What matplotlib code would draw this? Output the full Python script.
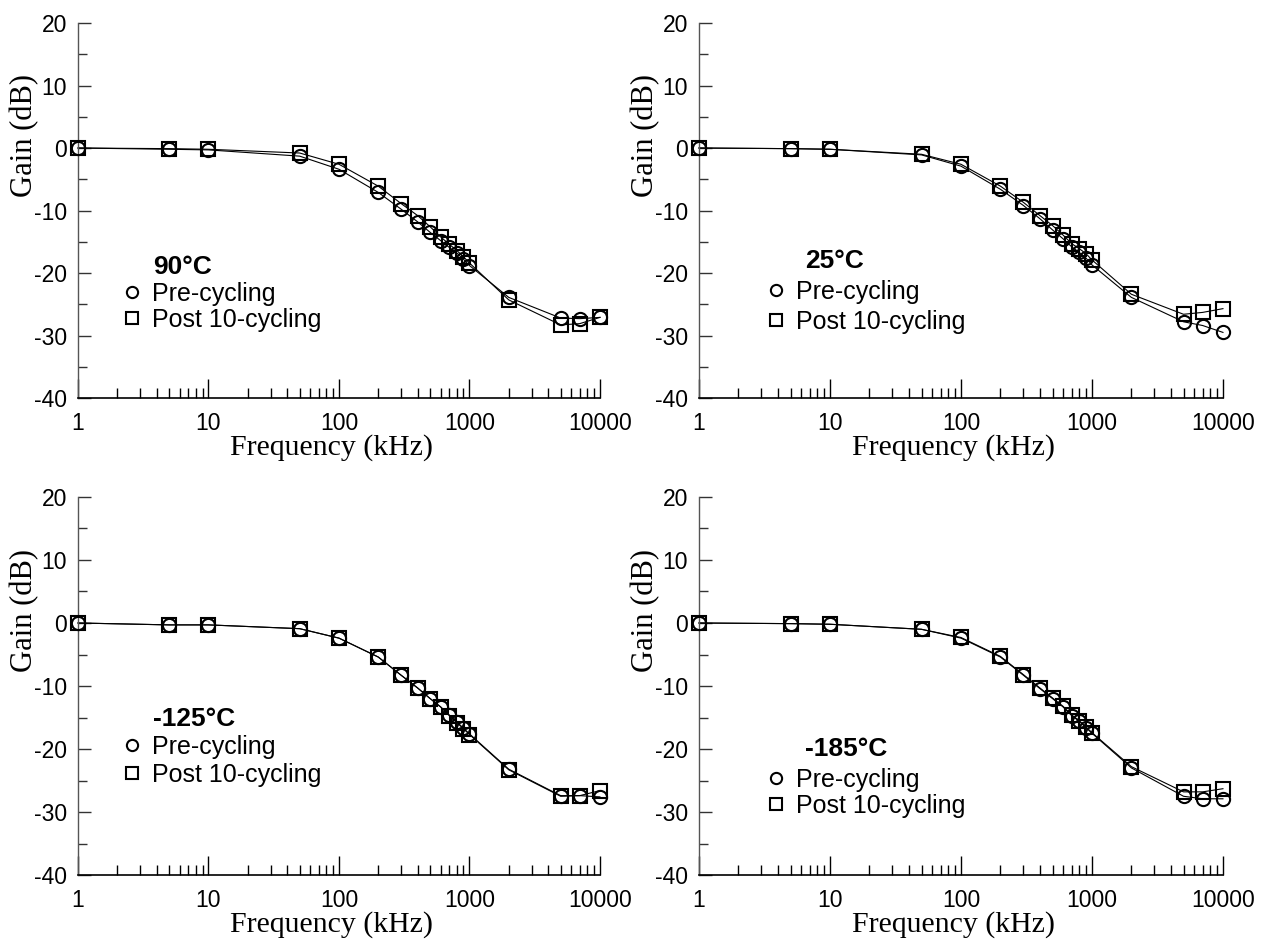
import numpy as np
import matplotlib
matplotlib.use("Agg")
import matplotlib.pyplot as plt
from matplotlib.ticker import LogLocator, NullFormatter, FixedLocator, FixedFormatter

plt.rcParams["axes.unicode_minus"] = False

# DATA
freq = [1, 5, 10, 50, 100, 200, 300, 400, 500, 600, 700, 800, 900, 1000, 2000, 5000, 7000, 10000]

p90_pre = [0, -0.2, -0.3, -1.3, -3.4, -7.1, -9.8, -11.8, -13.5, -14.8, -15.9, -16.8, -17.8, -18.8, -23.9, -27.2, -27.3, -27.1]
p90_post = [0, -0.1, -0.2, -0.8, -2.6, -6.1, -8.9, -10.8, -12.6, -14.2, -15.4, -16.4, -17.4, -18.4, -24.3, -28.3, -28.1, -27.1]

p25_pre = [0, -0.1, -0.2, -1.1, -2.9, -6.6, -9.2, -11.3, -13.1, -14.5, -15.8, -16.7, -17.6, -18.7, -23.9, -27.8, -28.4, -29.5]
p25_post = [0, -0.1, -0.2, -1.0, -2.6, -6.1, -8.7, -10.8, -12.4, -13.9, -15.3, -16.1, -16.9, -17.9, -23.4, -26.6, -26.3, -25.7]

m125_pre = [0, -0.3, -0.3, -0.9, -2.4, -5.4, -8.3, -10.3, -12.0, -13.3, -14.6, -15.7, -16.7, -17.6, -23.2, -27.4, -27.4, -27.6]
m125_post = [0, -0.3, -0.3, -0.9, -2.4, -5.4, -8.3, -10.3, -12.0, -13.3, -14.7, -15.8, -16.8, -17.7, -23.3, -27.5, -27.4, -26.6]

m185_pre = [0, -0.1, -0.2, -1.0, -2.4, -5.4, -8.3, -10.4, -12.0, -13.3, -14.7, -15.6, -16.6, -17.5, -23.0, -27.5, -27.9, -27.9]
m185_post = [0, -0.1, -0.2, -1.0, -2.3, -5.3, -8.2, -10.3, -11.9, -13.2, -14.6, -15.5, -16.5, -17.4, -22.8, -26.8, -26.8, -26.3]

temps = ["90\u00b0C", "25\u00b0C", "-125\u00b0C", "-185\u00b0C"]
series = [(p90_pre, p90_post), (p25_pre, p25_post), (m125_pre, m125_post), (m185_pre, m185_post)]
xticks = [1, 10, 100, 1000, 10000]
xticklabels = ["1", "10", "100", "1000", "10000"]

# LAYOUT (axes rectangles in figure fraction)
rects = [
    [0.0616, 0.5797, 0.4123, 0.3960],
    [0.5521, 0.5797, 0.4139, 0.3960],
    [0.0616, 0.0760, 0.4123, 0.3992],
    [0.5521, 0.0760, 0.4139, 0.3992],
]
# legend anchor (x, y), row spacing and title position, in axes fraction
leg_pos = [(0.084, 0.243), (0.128, 0.243), (0.084, 0.302), (0.128, 0.218)]
leg_space = [0.1, 0.25, 0.15, 0.08]
title_pos = [(0.143, 0.35), (0.202, 0.365), (0.143, 0.412), (0.202, 0.333)]

sans = "Liberation Sans"
serif = "Liberation Serif"

fig = plt.figure(figsize=(12.66, 9.47), dpi=100)

for i in range(4):
    ax = fig.add_axes(rects[i])
    pre, post = series[i]
    ax.plot(freq, pre, color="black", lw=0.8, zorder=2, clip_on=False)
    ax.plot(freq, post, color="black", lw=0.8, zorder=2, clip_on=False)
    ax.plot(freq, pre, ls="none", marker="o", ms=9.5, mew=1.5, mfc="none", mec="black",
            label="Pre-cycling", zorder=3, clip_on=False)
    ax.plot(freq, post, ls="none", marker="s", ms=9.5, mew=1.5, mfc="none", mec="black",
            label="Post 10-cycling", zorder=3, clip_on=False)

    ax.set_xscale("log")
    ax.set_xlim(1, 10000)
    ax.set_ylim(-40, 20)
    ax.xaxis.set_major_locator(FixedLocator(xticks))
    ax.xaxis.set_major_formatter(FixedFormatter(xticklabels))
    ax.xaxis.set_minor_locator(LogLocator(base=10, subs=np.arange(2, 10)))
    ax.xaxis.set_minor_formatter(NullFormatter())
    ax.set_yticks(np.arange(-40, 21, 10))
    ax.set_yticks(np.arange(-35, 20, 10), minor=True)

    ax.spines["top"].set_visible(False)
    ax.spines["right"].set_visible(False)
    ax.spines["left"].set_color("#555555")
    ax.spines["left"].set_linewidth(1.0)
    ax.spines["bottom"].set_linewidth(1.2)

    ax.tick_params(axis="x", which="major", direction="in", length=14, width=1.0, pad=10)
    ax.tick_params(axis="x", which="minor", direction="in", length=7, width=1.0)
    ax.tick_params(axis="y", which="major", direction="in", length=9.5, width=1.0, pad=8,
                   color="#333333")
    ax.tick_params(axis="y", which="minor", direction="in", length=6.5, width=1.0,
                   color="#333333")
    for lab in ax.get_xticklabels() + ax.get_yticklabels():
        lab.set_fontfamily(sans)
        lab.set_fontsize(16.5)

    ax.set_xlabel("Frequency (kHz)", fontfamily=serif, fontsize=21.5)
    ax.set_ylabel("Gain (dB)", fontfamily=serif, fontsize=22)
    ax.xaxis.set_label_coords(0.486, -0.095, transform=ax.transAxes)
    ax.xaxis.label.set_va("top")
    ax.yaxis.set_label_coords(-0.102, 0.70, transform=ax.transAxes)
    ax.yaxis.label.set_va("center")

    ax.text(title_pos[i][0], title_pos[i][1], temps[i], transform=ax.transAxes,
            fontfamily=sans, fontweight="bold", fontsize=19, ha="left", va="center")
    ax.legend(loc="center left", bbox_to_anchor=leg_pos[i], frameon=False,
              prop={"family": sans, "size": 18}, handlelength=0.8, handletextpad=0.4,
              borderpad=0, borderaxespad=0, labelspacing=leg_space[i], markerscale=0.85,
              numpoints=1)

fig.savefig("out.png", dpi=100)
